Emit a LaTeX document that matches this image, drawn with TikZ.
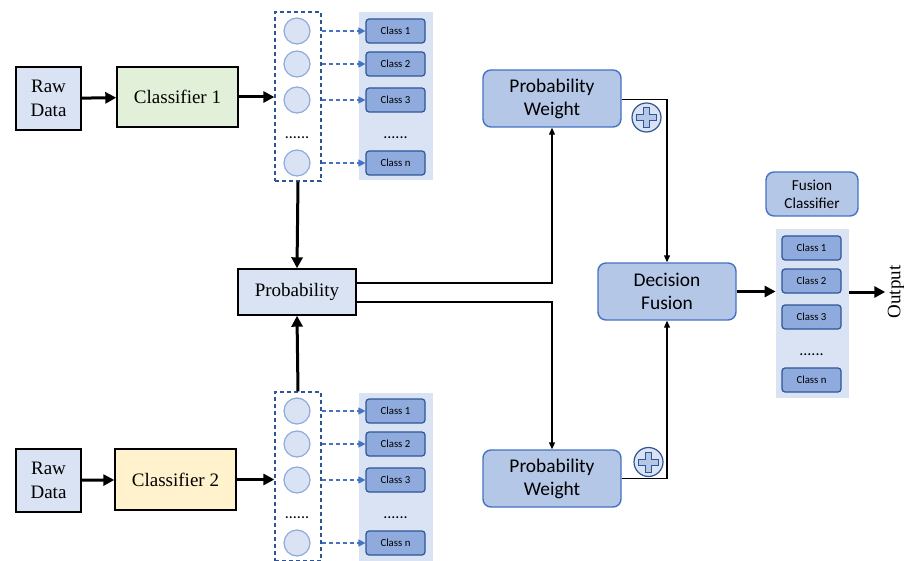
\documentclass[tikz,border=0pt]{standalone}
\usepackage{fontspec}
\setmainfont{Liberation Serif}
\newfontfamily\calibri{Carlito}
\usetikzlibrary{arrows.meta}
\definecolor{lightblue}{HTML}{DAE3F3}
\definecolor{lightgreen}{HTML}{E2F0D9}
\definecolor{lightyellow}{HTML}{FFF2CC}
\definecolor{midblue}{HTML}{B4C7E7}
\definecolor{classblue}{HTML}{8FAADC}
\definecolor{darkblue}{HTML}{2F5597}
\definecolor{accent}{HTML}{4472C4}
\begin{document}
\begin{tikzpicture}[x=0.5pt,y=-0.5pt,
  serifbox/.style={draw,line width=0.7pt,align=center,inner sep=1pt,font=\rmfamily\fontsize{9.5}{12}\selectfont},
  roundbox/.style={draw=accent,line width=0.7pt,fill=midblue,rounded corners=4pt,align=center,inner sep=1pt,font=\calibri\fontsize{9.7}{11.5}\selectfont},
  classbox/.style={draw=darkblue,line width=0.6pt,fill=classblue,rounded corners=1.5pt,minimum width=29.5pt,minimum height=12pt,inner sep=0pt,font=\calibri\fontsize{5.4}{6.5}\selectfont},
  panel/.style={fill=lightblue,minimum width=37pt,minimum height=84pt,inner sep=0pt},
  column/.style={draw=darkblue,line width=0.6pt,dash pattern=on 2pt off 1.5pt,minimum width=23pt,minimum height=84.5pt,inner sep=0pt},
  unit/.style={circle,draw=classblue,line width=0.6pt,fill=lightblue,minimum size=13pt,inner sep=0pt},
  dots/.style={inner sep=0pt,font=\calibri\fontsize{8}{8}\selectfont},
  plus/.style={circle,draw=darkblue,line width=0.6pt,fill=lightblue,minimum size=14.5pt,inner sep=0pt},
  bigarrow/.style={line width=1.5pt,-{Triangle[length=5.5pt,width=5.5pt]}},
  thinarrow/.style={line width=0.6pt,-{Triangle[length=3.5pt,width=3pt]}},
  dasharrow/.style={accent,line width=0.6pt,dash pattern=on 2pt off 1.5pt,-{Triangle[length=3.5pt,width=3.5pt]}}]
  \useasboundingbox (0,0) rectangle (904,561);
  % upper branch
  \node (raw1) at (48.5,98.5) [serifbox,fill=lightblue,minimum width=32.5pt,minimum height=31.5pt] {Raw\\Data};
  \node (clf1) at (177.5,97) [serifbox,fill=lightgreen,minimum width=60.5pt,minimum height=30pt] {Classifier 1};
  \node (col1) at (298,96.5) [column] {};
  \node (pan1) at (396,96) [panel] {};
  \node (cir1a) at (297,31) [unit] {};
  \node (cir1b) at (297,64) [unit] {};
  \node (cir1c) at (297,100) [unit] {};
  \node (dot1) at (297,138) [dots] {......};
  \node (cir1n) at (297,163) [unit] {};
  \node (cls1a) at (395.5,31) [classbox] {Class 1};
  \node (cls1b) at (395.5,64) [classbox] {Class 2};
  \node (cls1c) at (395.5,100) [classbox] {Class 3};
  \node (pdot1) at (395.5,138) [dots] {......};
  \node (cls1n) at (395.5,163) [classbox] {Class n};
  \draw[bigarrow] (raw1) -- (clf1);
  \draw[bigarrow] (clf1.east) -- (clf1.east -| col1.west);
  \draw[dasharrow] (col1.east |- cir1a) -- (cls1a);
  \draw[dasharrow] (col1.east |- cir1b) -- (cls1b);
  \draw[dasharrow] (col1.east |- cir1c) -- (cls1c);
  \draw[dasharrow] (col1.east |- cir1n) -- (cls1n);
  % lower branch
  \node (raw2) at (48.5,480.5) [serifbox,fill=lightblue,minimum width=32.5pt,minimum height=31.5pt] {Raw\\Data};
  \node (clf2) at (175.5,479.5) [serifbox,fill=lightyellow,minimum width=60.5pt,minimum height=30.5pt] {Classifier 2};
  \node (col2) at (298,476.5) [column] {};
  \node (pan2) at (396,476.5) [panel] {};
  \node (cir2a) at (297,411) [unit] {};
  \node (cir2b) at (297,444) [unit] {};
  \node (cir2c) at (297,480) [unit] {};
  \node (dot2) at (297,518) [dots] {......};
  \node (cir2n) at (297,543) [unit] {};
  \node (cls2a) at (395.5,411) [classbox] {Class 1};
  \node (cls2b) at (395.5,444) [classbox] {Class 2};
  \node (cls2c) at (395.5,480) [classbox] {Class 3};
  \node (pdot2) at (395.5,518) [dots] {......};
  \node (cls2n) at (395.5,543) [classbox] {Class n};
  \draw[bigarrow] (raw2) -- (clf2);
  \draw[bigarrow] (clf2.east) -- (clf2.east -| col2.west);
  \draw[dasharrow] (col2.east |- cir2a) -- (cls2a);
  \draw[dasharrow] (col2.east |- cir2b) -- (cls2b);
  \draw[dasharrow] (col2.east |- cir2c) -- (cls2c);
  \draw[dasharrow] (col2.east |- cir2n) -- (cls2n);
  % fusion
  \node (prob) at (297,292) [serifbox,fill=lightblue,minimum width=59pt,minimum height=23pt] {Probability};
  \draw[bigarrow] (col1.south) -- (prob.north);
  \draw[bigarrow] (col2.north) -- (prob.south);
  \node (pw1) at (552,98.5) [roundbox,minimum width=69pt,minimum height=28.5pt] {Probability\\Weight};
  \node (pw2) at (552,478.5) [roundbox,minimum width=69pt,minimum height=28.5pt] {Probability\\Weight};
  \node (df) at (667,291.5) [roundbox,minimum width=69pt,minimum height=28.5pt] {Decision\\Fusion};
  \node (fc) at (812,194) [roundbox,minimum width=46pt,minimum height=22pt,font=\calibri\fontsize{7.6}{9}\selectfont] {Fusion\\Classifier};
  \node (plus1) at (646.5,117.5) [plus] {};
  \node (plus2) at (648.5,462) [plus] {};
  \draw[darkblue,line width=0.5pt,fill=midblue,shift={(plus1)}] (-10,-3) -- (-3,-3) -- (-3,-10) -- (3,-10) -- (3,-3) -- (10,-3) -- (10,3) -- (3,3) -- (3,10) -- (-3,10) -- (-3,3) -- (-10,3) -- cycle;
  \draw[darkblue,line width=0.5pt,fill=midblue,shift={(plus2)}] (-10,-3) -- (-3,-3) -- (-3,-10) -- (3,-10) -- (3,-3) -- (10,-3) -- (10,3) -- (3,3) -- (3,10) -- (-3,10) -- (-3,3) -- (-10,3) -- cycle;
  \draw[thinarrow] ([yshift=4.5pt]prob.east) -| (pw1.south);
  \draw[thinarrow] ([yshift=-5pt]prob.east) -| (pw2.north);
  \draw[thinarrow] ([yshift=-0.5pt]pw1.east) -| (df.north);
  \draw[thinarrow] (pw2.east) -| (df.south);
  \node (pan3) at (812.5,313.5) [panel,minimum width=36.5pt,minimum height=84.5pt] {};
  \node (rcla) at (811.5,248) [classbox] {Class 1};
  \node (rclb) at (811.5,281) [classbox] {Class 2};
  \node (rclc) at (811.5,317) [classbox] {Class 3};
  \node (rdot) at (811.5,355) [dots] {......};
  \node (rcln) at (811.5,380) [classbox] {Class n};
  \node (out) at (896,292) [rotate=90,inner sep=1pt,font=\rmfamily\fontsize{9.5}{12}\selectfont] {Output};
  \draw[bigarrow] (df.east) -- (df.east -| pan3.west);
  \draw[bigarrow] (pan3.east |- out) -- (out.north);
\end{tikzpicture}
\end{document}
